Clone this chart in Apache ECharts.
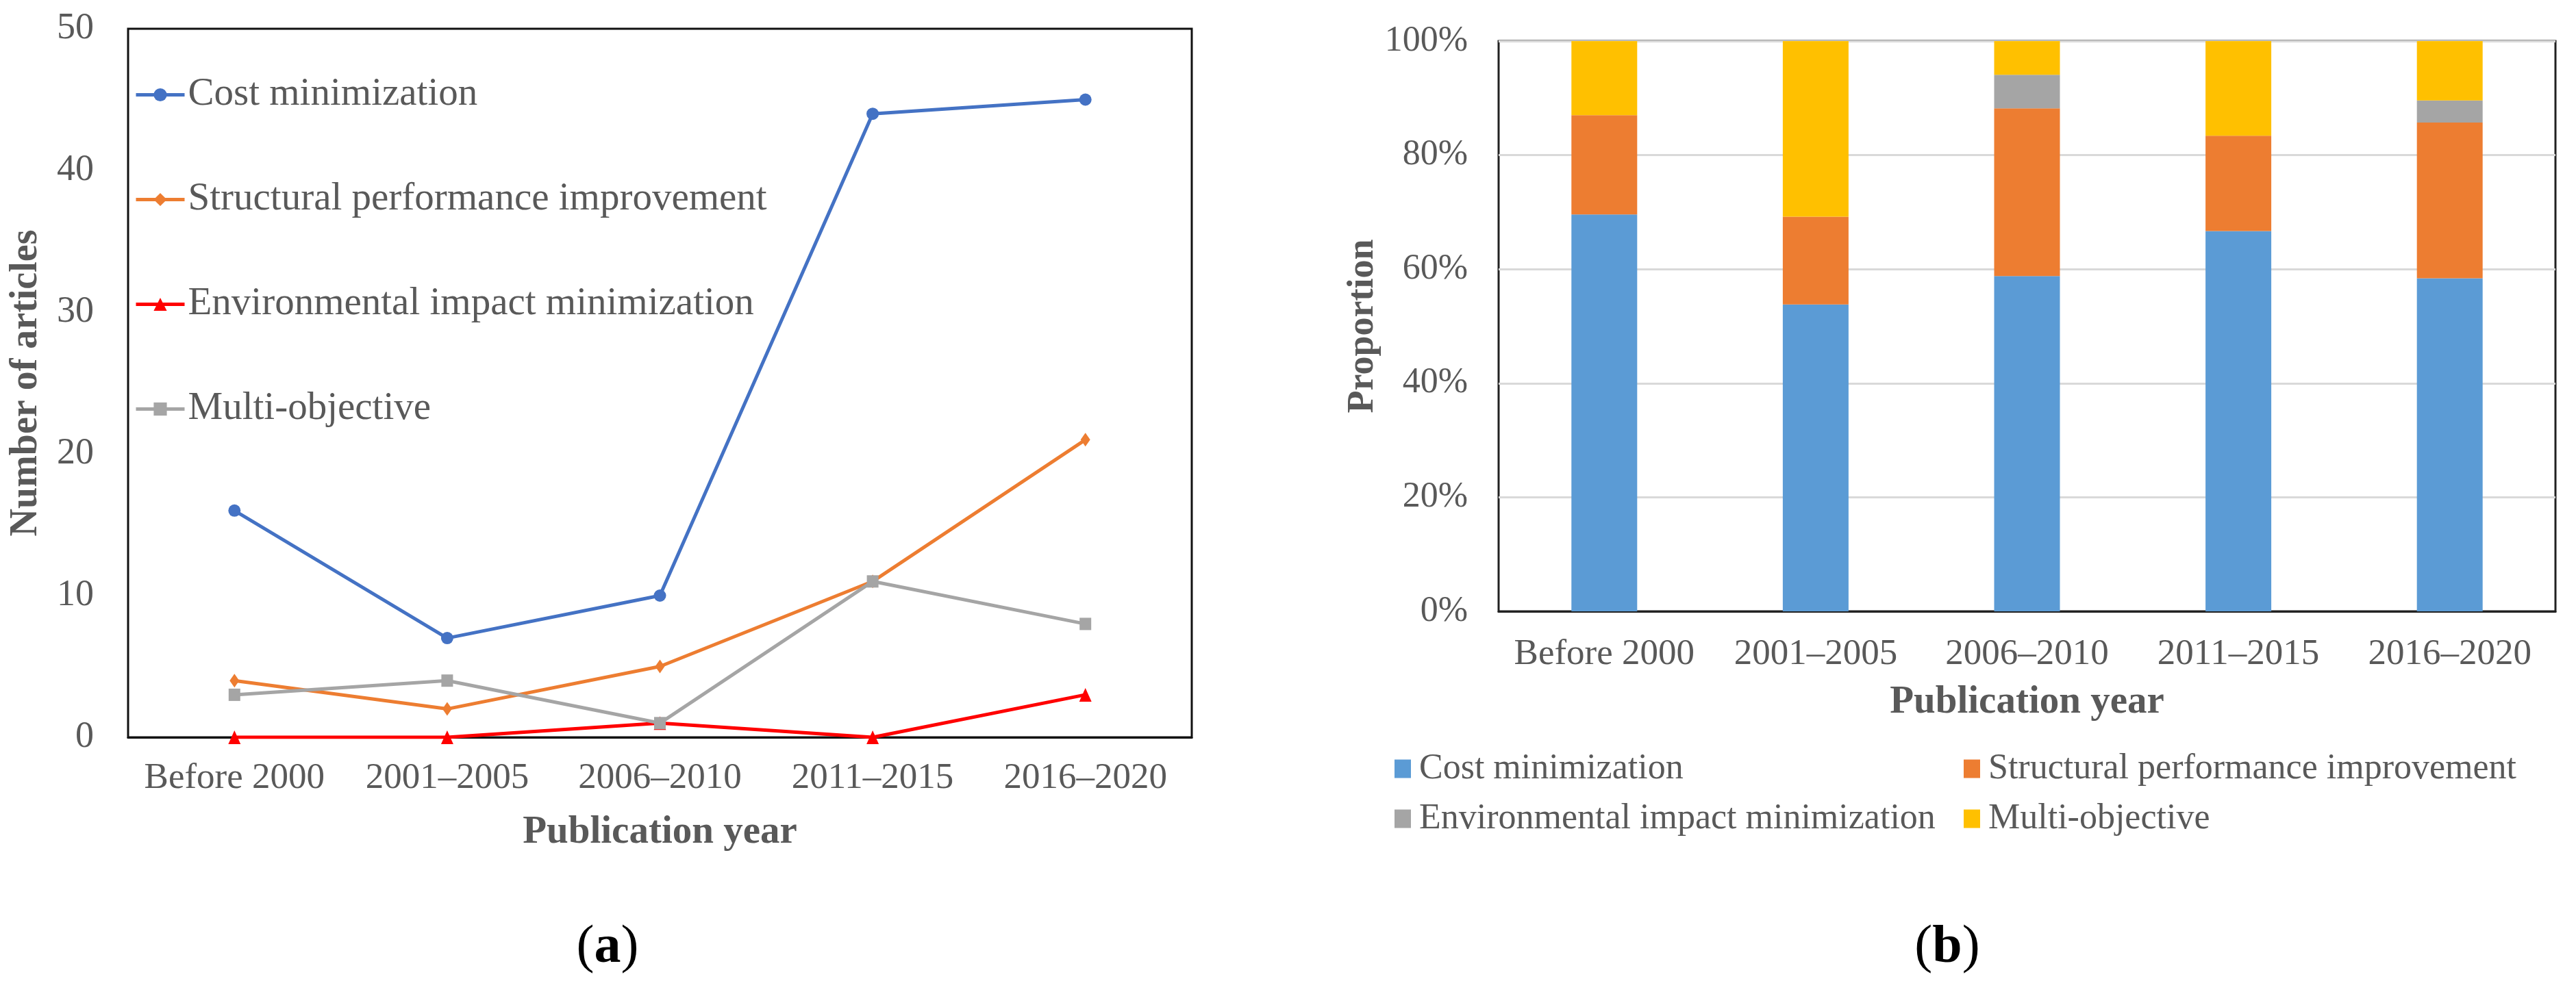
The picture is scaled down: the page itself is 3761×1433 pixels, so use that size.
<!DOCTYPE html>
<html><head><meta charset="utf-8">
<script src="https://cdn.jsdelivr.net/npm/echarts@6/dist/echarts.min.js"></script>
<style>html,body{margin:0;padding:0;background:#fff}#c{width:3761px;height:1433px}</style>
</head><body><div id="c"></div>
<script>
// ---- data ----
const categories = ['Before 2000', '2001–2005', '2006–2010', '2011–2015', '2016–2020'];
const seriesNames = ['Cost minimization', 'Structural performance improvement', 'Environmental impact minimization', 'Multi-objective'];
// (a) number of articles
const costCounts = [16, 7, 10, 44, 45];
const structCounts = [4, 2, 5, 11, 21];
const envCounts = [0, 0, 1, 0, 3];
const multiCounts = [3, 4, 1, 11, 8];
// (b) proportion (%)
const costShare = [69.6, 53.8, 58.8, 66.7, 58.4];
const structShare = [17.4, 15.4, 29.4, 16.7, 27.3];
const envShare = [0, 0, 5.9, 0, 3.9];
const multiShare = [13.0, 30.8, 5.9, 16.6, 10.4];
// axis ticks
const countTicks = { min: 0, max: 50, interval: 10 };
const shareTicks = { min: 0, max: 100, interval: 20 };

const FONT = "'Liberation Serif','Times New Roman',serif";
const TXT = '#595959';
const lineColors = ['#4472C4', '#ED7D31', '#FF0000', '#A5A5A5'];
const barColors = ['#5B9BD5', '#ED7D31', '#A5A5A5', '#FFC000'];
const symbols = ['circle', 'diamond', 'triangle', 'rect'];
const symbolSizes = [18, [14, 20], [18, 20], [17, 18]];
const countData = [costCounts, structCounts, envCounts, multiCounts];
const shareData = [costShare, structShare, envShare, multiShare];
const BP = 'b|';

const chart = echarts.init(document.getElementById('c'));

const lineSeries = seriesNames.map((n, i) => ({
  name: n, type: 'line', xAxisIndex: 0, yAxisIndex: 0,
  data: countData[i], symbol: symbols[i], symbolSize: symbolSizes[i], showSymbol: true,
  lineStyle: { color: lineColors[i], width: 5 },
  itemStyle: { color: lineColors[i] }
}));
const barSeries = seriesNames.map((n, i) => ({
  name: BP + n, type: 'bar', stack: 'p', xAxisIndex: 1, yAxisIndex: 1,
  data: shareData[i], barWidth: 96, itemStyle: { color: barColors[i] }
}));

const axisLabelStyle = { fontFamily: FONT, color: TXT, interval: 0 };
const nameStyle = { fontFamily: FONT, color: TXT, fontWeight: 'bold', fontSize: 57 };

chart.setOption({
  animation: false,
  backgroundColor: '#fff',
  grid: [
    { left: 187, top: 42, width: 1553, height: 1035, show: true, borderColor: '#111', borderWidth: 3, backgroundColor: 'transparent' },
    { left: 2188, top: 60, width: 1543, height: 833, show: true, borderColor: '#222', borderWidth: 3, backgroundColor: 'transparent' }
  ],
  xAxis: [
    { gridIndex: 0, type: 'category', data: categories, boundaryGap: true,
      axisLine: { lineStyle: { color: '#111', width: 3 } }, axisTick: { show: false },
      axisLabel: Object.assign({ fontSize: 53, margin: 34 }, axisLabelStyle),
      name: 'Publication year', nameLocation: 'middle', nameGap: 111, nameTextStyle: nameStyle },
    { gridIndex: 1, type: 'category', data: categories, boundaryGap: true,
      axisLine: { lineStyle: { color: '#222', width: 3 } }, axisTick: { show: false },
      axisLabel: Object.assign({ fontSize: 53, margin: 37 }, axisLabelStyle),
      name: 'Publication year', nameLocation: 'middle', nameGap: 105, nameTextStyle: nameStyle }
  ],
  yAxis: [
    { gridIndex: 0, type: 'value', min: countTicks.min, max: countTicks.max, interval: countTicks.interval,
      axisLine: { show: false }, axisTick: { show: false }, splitLine: { show: false },
      axisLabel: { fontFamily: FONT, color: TXT, fontSize: 54, margin: 50 },
      name: 'Number of articles', nameLocation: 'middle', nameGap: 120, nameRotate: 90,
      nameTextStyle: Object.assign({}, nameStyle, { fontSize: 56 }) },
    { gridIndex: 1, type: 'value', min: shareTicks.min, max: shareTicks.max, interval: shareTicks.interval,
      axisLine: { show: false }, axisTick: { show: false },
      splitLine: { show: true, lineStyle: { color: '#D9D9D9', width: 3 } },
      axisLabel: { fontFamily: FONT, color: TXT, fontSize: 52, margin: 45, formatter: '{value}%' },
      name: 'Proportion', nameLocation: 'middle', nameGap: 171, nameRotate: 90,
      nameTextStyle: Object.assign({}, nameStyle, { fontSize: 54 }) }
  ],
  legend: [
    { data: seriesNames, orient: 'vertical', left: 196, top: 110, padding: 0,
      itemWidth: 71, itemHeight: 24, itemGap: 96, selectedMode: false,
      lineStyle: { width: 5 },
      textStyle: { fontFamily: FONT, color: TXT, fontSize: 57, lineHeight: 57 } },
    { data: [BP + seriesNames[0], BP + seriesNames[2]], orient: 'vertical', left: 2036, top: 1097, padding: 0,
      icon: 'rect', itemWidth: 24, itemHeight: 27, itemGap: 21, selectedMode: false,
      formatter: n => n.slice(BP.length),
      textStyle: { fontFamily: FONT, color: TXT, fontSize: 52, lineHeight: 52, padding: [0, 0, 0, 7] } },
    { data: [BP + seriesNames[1], BP + seriesNames[3]], orient: 'vertical', left: 2867, top: 1097, padding: 0,
      icon: 'rect', itemWidth: 24, itemHeight: 27, itemGap: 21, selectedMode: false,
      formatter: n => n.slice(BP.length),
      textStyle: { fontFamily: FONT, color: TXT, fontSize: 52, lineHeight: 52, padding: [0, 0, 0, 7] } }
  ],
  graphic: [
    { type: 'text', x: 887, y: 1385, style: { text: '{p|(}{b|a}{p|)}', align: 'center', verticalAlign: 'middle',
      rich: { p: { fontFamily: FONT, fontSize: 78, fill: '#000' }, b: { fontFamily: FONT, fontSize: 78, fontWeight: 'bold', fill: '#000' } } } },
    { type: 'text', x: 2843, y: 1385, style: { text: '{p|(}{b|b}{p|)}', align: 'center', verticalAlign: 'middle',
      rich: { p: { fontFamily: FONT, fontSize: 78, fill: '#000' }, b: { fontFamily: FONT, fontSize: 78, fontWeight: 'bold', fill: '#000' } } } }
  ],
  series: lineSeries.concat(barSeries)
});
</script></body></html>
